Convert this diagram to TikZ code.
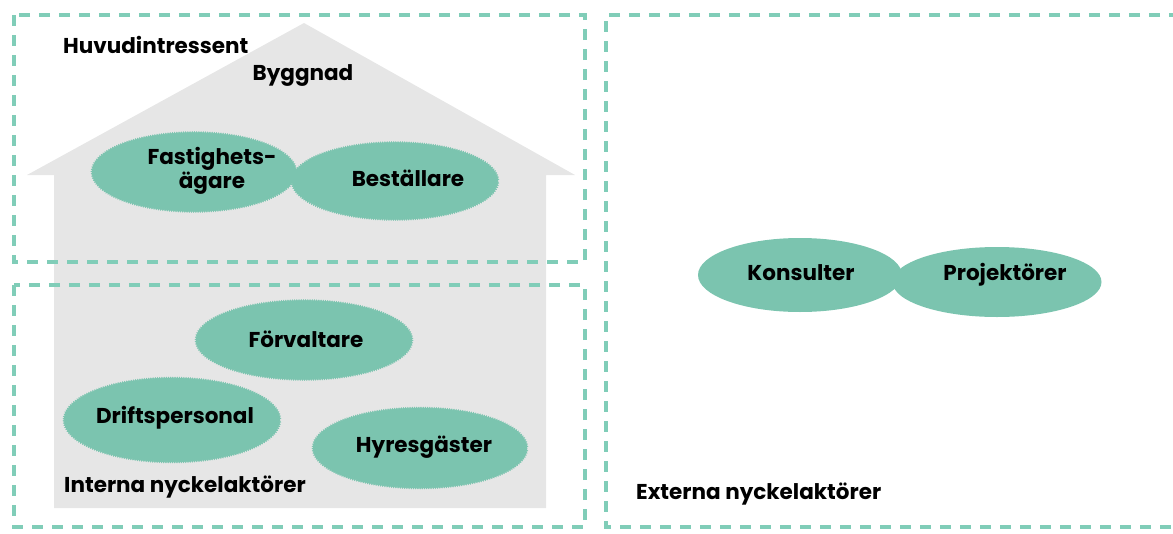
\documentclass[tikz,border=0pt]{standalone}
\usepackage{fontspec}
\setmainfont{Poppins}
\usetikzlibrary{shapes.geometric,decorations.pathmorphing}
\definecolor{teal}{HTML}{7BC4AF}
\definecolor{dashc}{HTML}{80CDB8}
\definecolor{house}{HTML}{E6E6E6}
\tikzset{
  frame/.style={draw=dashc, line width=3.5pt, dash pattern=on 11pt off 9pt},
  actor/.style={ellipse, fill=teal, inner sep=0pt},
  rough/.style={actor, draw=teal, line width=0.6pt, decorate, decoration={zigzag, segment length=2.2pt, amplitude=0.9pt}},
  lbl/.style={font=\bfseries\fontsize{21.5}{21}\selectfont, inner sep=0pt, align=center},
}
\begin{document}
\begin{tikzpicture}[x=1pt,y=-1pt]
\useasboundingbox (0,0) rectangle (1173,533);
% house
\fill[house] (304,23) -- (575,175) -- (546,175) -- (546,508) -- (54,508) -- (54,175) -- (27,175) -- cycle;
% frames
\draw[frame] (14,15) rectangle (585,262);
\draw[frame] (14,285) rectangle (585,527);
\draw[frame] (1180,15) -- (606,15) -- (606,527) -- (1180,527);
% labels
\node[lbl, anchor=west] (huv) at (63,45) {Huvudintressent};
\node[lbl] (byg) at (303,75) {Byggnad};
\node[lbl, anchor=west] (int) at (64,487) {Interna nyckelaktörer};
\node[lbl, anchor=west] (ext) at (636,494) {Externa nyckelaktörer};
% actors (shapes)
\node[rough, minimum width=204pt, minimum height=79pt] (fast) at (194,172) {};
\node[rough, minimum width=206pt, minimum height=77pt] (best) at (395,181) {};
\node[rough, minimum width=216pt, minimum height=79pt] (forv) at (304,340) {};
\node[rough, minimum width=216pt, minimum height=84pt] (drift) at (172,420) {};
\node[rough, minimum width=214pt, minimum height=80pt] (hyr) at (420,448) {};
\node[actor, minimum width=204pt, minimum height=74pt] (kons) at (800,275) {};
\node[actor, minimum width=209pt, minimum height=70pt] (proj) at (997,282) {};
% actor texts
\node[lbl] (fastT) at (212,171) {Fastighets-\\ägare};
\node[lbl] (bestT) at (408,178) {Beställare};
\node[lbl] (forvT) at (306,339) {Förvaltare};
\node[lbl] (driftT) at (175,418) {Driftspersonal};
\node[lbl] (hyrT) at (424,447) {Hyresgäster};
\node[lbl] (konsT) at (801,273) {Konsulter};
\node[lbl] (projT) at (1005,275) {Projektörer};
\end{tikzpicture}
\end{document}
